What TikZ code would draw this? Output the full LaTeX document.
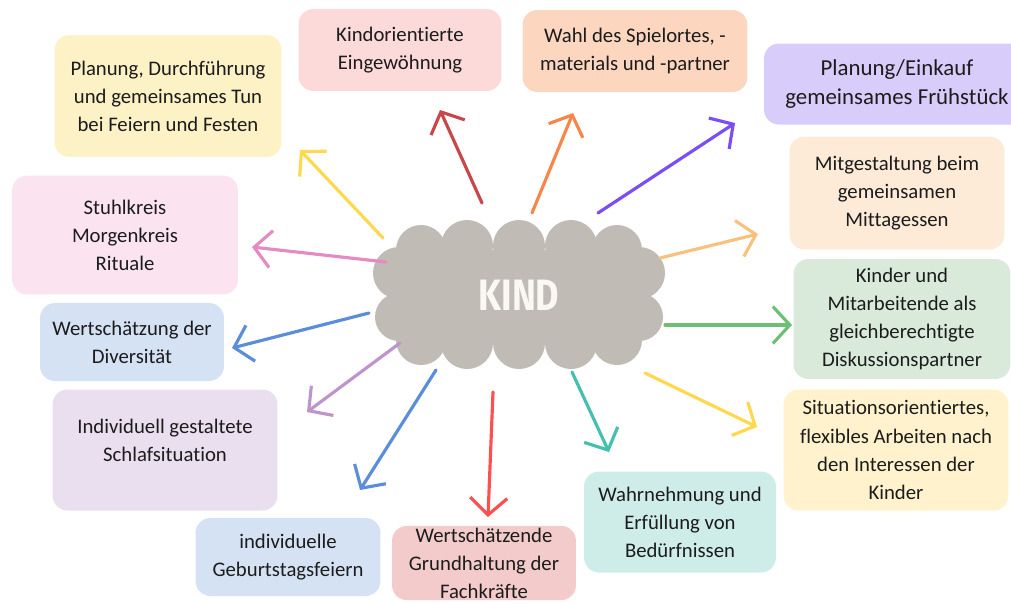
\documentclass[tikz,border=0pt]{standalone}
\usepackage{fontspec}
\setmainfont{Carlito}[Ligatures=NoCommon]
\newfontfamily\kindfont{Fira Sans}
\usetikzlibrary{arrows.meta}

\definecolor{textfarbe}{HTML}{1C1C1C}
\definecolor{wolkengrau}{HTML}{C1BBB6}
\definecolor{kindweiss}{HTML}{FAF8F2}
\definecolor{gelbhell}{HTML}{FDF1C6}
\definecolor{rosahell}{HTML}{FCDADA}
\definecolor{pfirsichhell}{HTML}{FCD6BF}
\definecolor{lilahell}{HTML}{D8CCFA}
\definecolor{orangehell}{HTML}{FDEBD8}
\definecolor{gruenhell}{HTML}{D9EADB}
\definecolor{cremehell}{HTML}{FFF2CC}
\definecolor{tuerkishell}{HTML}{CEEDE8}
\definecolor{rothell}{HTML}{F3CBCB}
\definecolor{blauhell}{HTML}{D5E2F4}
\definecolor{malvehell}{HTML}{EADFEE}
\definecolor{pinkhell}{HTML}{FBE4EF}
\definecolor{pgelb}{HTML}{FFD84D}
\definecolor{pdunkelrot}{HTML}{C9474A}
\definecolor{porange}{HTML}{F7864A}
\definecolor{plila}{HTML}{7A4DF5}
\definecolor{phellorange}{HTML}{F8C27E}
\definecolor{pgruen}{HTML}{6DBF73}
\definecolor{ptuerkis}{HTML}{45C0B0}
\definecolor{prot}{HTML}{FF4F4F}
\definecolor{pblau}{HTML}{5B8DDB}
\definecolor{pmalve}{HTML}{BE94CC}
\definecolor{ppink}{HTML}{E68AC3}

\begin{document}
\begin{tikzpicture}[x=0.02cm, y=-0.02cm,
        kasten/.style = {rounded corners=0.3cm, align=center, inner sep=0pt, text=textfarbe, font=\fontsize{11.8}{16}\selectfont},
        wolke/.style = {fill=wolkengrau},
        pfeil/.style = {line width=1.8pt, line cap=round, -{Straight Barb[length=3.4mm, width=7.4mm]}}]

        \useasboundingbox (0,0) rectangle (1011,603);
        \clip (0,0) rectangle (1011,603);

        \node[kasten, fill=gelbhell, minimum width=4.54cm, minimum height=2.44cm] (feste) at (168,96) {Planung, Durchführung\\und gemeinsames Tun\\bei Feiern und Festen};
        \node[kasten, fill=rosahell, minimum width=4.06cm, minimum height=1.64cm] (eingew) at (400,50) {Kindorientierte\\Eingewöhnung};
        \node[kasten, fill=pfirsichhell, minimum width=4.5cm, minimum height=1.64cm] (spielort) at (635,51) {Wahl des Spielortes, -\\materials und -partner};
        \node[kasten, fill=lilahell, minimum width=5.32cm, minimum height=1.62cm, font=\fontsize{13}{17}\selectfont] (fruehstueck) at (897,84) {Planung/Einkauf\\gemeinsames Frühstück};
        \node[kasten, fill=orangehell, minimum width=4.3cm, minimum height=2.26cm] (mittag) at (897,193) {Mitgestaltung beim\\gemeinsamen\\Mittagessen};
        \node[kasten, fill=gruenhell, minimum width=4.34cm, minimum height=2.4cm] (diskussion) at (902,319) {Kinder und\\Mitarbeitende als\\gleichberechtigte\\Diskussionspartner};
        \node[kasten, fill=cremehell, minimum width=4.5cm, minimum height=2.42cm] (situation) at (896,450) {Situationsorientiertes,\\flexibles Arbeiten nach\\den Interessen der\\Kinder};
        \node[kasten, fill=tuerkishell, minimum width=3.84cm, minimum height=2.02cm] (beduerfnis) at (680,522) {Wahrnehmung und\\Erfüllung von\\Bedürfnissen};
        \node[kasten, fill=rothell, minimum width=3.68cm, inner ysep=1pt] (grundhaltung) at (484,563) {Wertschätzende\\Grundhaltung der\\Fachkräfte};
        \node[kasten, fill=blauhell, minimum width=3.7cm, minimum height=1.56cm] (geburtstag) at (288,557) {individuelle\\Geburtstagsfeiern};
        \node[kasten, fill=malvehell, minimum width=4.5cm, minimum height=2.42cm, text depth=11pt] (schlaf) at (165,450) {Individuell gestaltete\\Schlafsituation};
        \node[kasten, fill=blauhell, minimum width=3.68cm, minimum height=1.56cm] (diversitaet) at (132,342) {Wertschätzung der\\Diversität};
        \node[kasten, fill=pinkhell, minimum width=4.52cm, minimum height=2.38cm] (rituale) at (125,235) {Stuhlkreis\\Morgenkreis\\Rituale};

        \fill[wolke] (405,250) rectangle (633,343);
        \fill[wolke] (421,250) circle (25);
        \fill[wolke] (467,246) circle (26);
        \fill[wolke] (519,246) circle (26);
        \fill[wolke] (571,246) circle (26);
        \fill[wolke] (617,250) circle (25);
        \fill[wolke] (421,340) circle (25);
        \fill[wolke] (467,343) circle (26);
        \fill[wolke] (519,343) circle (26);
        \fill[wolke] (571,343) circle (26);
        \fill[wolke] (617,340) circle (25);
        \fill[wolke] (399,273) circle (26);
        \fill[wolke] (399,317) circle (24);
        \fill[wolke] (639,273) circle (26);
        \fill[wolke] (639,317) circle (24);
        \node[text=kindweiss, font=\kindfont\bfseries\fontsize{25}{28}\selectfont] (kind) at (519,295) {\scalebox{0.82}[1]{KIND}};

        \draw[pfeil, pgelb] ([shift={(-136,-57)}]kind.center) -- ([shift={(132,54)}]feste.center);
        \draw[pfeil, pdunkelrot] ([shift={(-37,-92)}]kind.center) -- ([shift={(40,60)}]eingew.center);
        \draw[pfeil, porange] ([shift={(13,-82)}]kind.center) -- ([shift={(-62,62)}]spielort.center);
        \draw[pfeil, plila] ([shift={(79,-82)}]kind.center) -- ([shift={(-162,39)}]fruehstueck.center);
        \draw[pfeil, phellorange] ([shift={(141,-37)}]kind.center) -- ([shift={(-139,41)}]mittag.center);
        \draw[pfeil, pgruen] ([shift={(146,30)}]kind.center) -- ([shift={(-110,6)}]diskussion.center);
        \draw[pfeil, pgelb] ([shift={(126,78)}]kind.center) -- ([shift={(-139,-23)}]situation.center);
        \draw[pfeil, ptuerkis] ([shift={(53,77)}]kind.center) -- ([shift={(-71,-70)}]beduerfnis.center);
        \draw[pfeil, prot] ([shift={(-26,97)}]kind.center) -- ([shift={(4,-46)}]grundhaltung.center);
        \draw[pfeil, pblau] ([shift={(-83,75)}]kind.center) -- ([shift={(72,-67)}]geburtstag.center);
        \draw[pfeil, pmalve] ([shift={(-119,48)}]kind.center) -- ([shift={(142,-38)}]schlaf.center);
        \draw[pfeil, pblau] ([shift={(-150,18)}]kind.center) -- ([shift={(100,6)}]diversitaet.center);
        \draw[pfeil, ppink] ([shift={(-133,-33)}]kind.center) -- ([shift={(127,12)}]rituale.center);

\end{tikzpicture}
\end{document}
